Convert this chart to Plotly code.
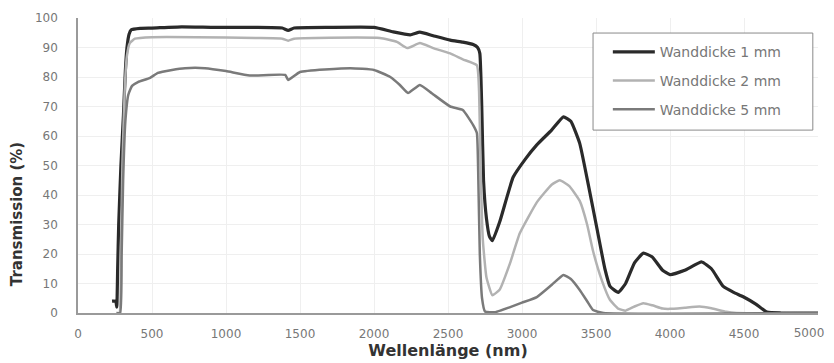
import plotly.graph_objects as go

# ---- data ----
x_1mm = [230, 255, 262, 268, 275, 290, 307, 320, 331, 345, 360, 420, 500, 700, 925, 1200, 1380, 1420, 1460,
         1700, 2000, 2130, 2245, 2310, 2400, 2515, 2600, 2670, 2700, 2715, 2728, 2740, 2760, 2780, 2800,
         2850, 2940, 3020, 3100, 3200, 3280, 3330, 3390, 3450, 3505, 3560, 3595, 3650, 3700, 3760, 3820,
         3880, 3950, 4000, 4100, 4215, 4280, 4360, 4430, 4495, 4580, 4655, 4750, 5000]
y_1mm = [4, 4, 2, 15, 30, 50, 67, 82, 90, 94.5, 96, 96.5, 96.6, 97, 96.8, 96.8, 96.6, 95.8, 96.6,
         96.8, 96.8, 95.3, 94.3, 95.2, 94.0, 92.5, 91.8, 91.0, 90.0, 88.0, 70, 45, 32, 26, 24.5,
         31, 46, 52, 57, 62, 66.5, 65, 57.5, 43, 29, 15, 9, 7, 10, 17, 20.3,
         19, 14.5, 13, 14.5, 17.3, 15, 9, 7, 5.5, 3, 0.3, 0, 0]

x_2mm = [260, 280, 290, 300, 315, 330, 350, 385, 500, 800, 1200, 1380, 1420, 1460, 1700, 2040, 2155,
         2225, 2310, 2400, 2515, 2600, 2695, 2710, 2720, 2735, 2760, 2800, 2850, 2920, 2985, 3100,
         3200, 3255, 3320, 3390, 3440, 3480, 3540, 3595, 3650, 3700, 3760, 3820, 3880, 3950, 4000,
         4100, 4200, 4280, 4380, 4450, 5000]
y_2mm = [0, 0, 20, 50, 75, 87, 91.5, 93, 93.5, 93.5, 93.2, 93.0, 92.3, 93.0, 93.3, 93.2, 91.9,
         89.8, 91.5, 89.8, 88.0, 86.0, 84.0, 75, 50, 25, 12, 6, 8, 17, 27, 37.5,
         43.5, 45, 43, 38, 30, 21, 11, 4.4, 1.5, 0.8, 2.2, 3.3, 2.6, 1.5, 1.4,
         1.8, 2.2, 1.6, 0.4, 0, 0]

x_5mm = [260, 285, 295, 305, 320, 340, 365, 405, 487, 540, 635, 723, 858, 1000, 1160, 1400, 1420,
         1500, 1840, 2000, 2110, 2175, 2230, 2310, 2390, 2515, 2600, 2670, 2695, 2705, 2715, 2730,
         2750, 2820, 2920, 3000, 3100, 3200, 3280, 3330, 3390, 3440, 3480, 3550, 5000]
y_5mm = [0, 0, 20, 45, 65, 74, 77, 78.3, 79.7, 81.4, 82.4, 83, 83, 82, 80.5, 80.7, 79,
         81.7, 83, 82.4, 80, 77.3, 74.6, 77.3, 74.5, 70, 68.8, 63.7, 61, 45, 20, 5,
         0.5, 0.3, 2, 3.5, 5.4, 9.5, 12.9, 11.5, 7.8, 4, 1, 0, 0]

names = ["Wanddicke 1 mm", "Wanddicke 2 mm", "Wanddicke 5 mm"]
x_ticks = [0, 500, 1000, 1500, 2000, 2500, 3000, 3500, 4000, 4500, 5000]
y_ticks = [0, 10, 20, 30, 40, 50, 60, 70, 80, 90, 100]

FONT = "DejaVu Sans"
TICKFONT = dict(family=FONT, size=12, color="#777")

fig = go.Figure()
styles = [("#2a2a2a", 3.2), ("#b2b2b2", 2.5), ("#7a7a7a", 2.5)]
for i, (xs, ys) in enumerate([(x_1mm, y_1mm), (x_2mm, y_2mm), (x_5mm, y_5mm)]):
    col, w = styles[i]
    fig.add_trace(go.Scatter(x=xs, y=ys, mode="lines", name=names[i], legendgroup=f"g{i}",
                             line=dict(color=col, width=w, shape="spline", smoothing=0.4)))

# the last x tick label sits at the page edge: draw it from an overlaying axis nudged left
last_tick = x_ticks[-1]
main_text = [str(v) if v != last_tick else "" for v in x_ticks]
# empty helper trace so that the overlaying axis gets drawn (draws nothing)
fig.add_trace(go.Scatter(x=[], y=[], xaxis="x2", yaxis="y", mode="lines",
                         showlegend=False, hoverinfo="skip"))

# page body has an 8px margin, so the figure is made 8px smaller
fig.update_layout(
    width=826, height=355,
    margin=dict(l=70, r=16, t=10, b=50, autoexpand=False),
    paper_bgcolor="white", plot_bgcolor="white",
    font=dict(family=FONT, size=12, color="#666"),
    showlegend=True,
    legend=dict(x=0.716, y=0.938, xanchor="left", yanchor="top",
                borderwidth=0, bgcolor="rgba(0,0,0,0)",
                font=dict(family=FONT, size=14, color="#777"),
                tracegroupgap=7.5, itemwidth=42),
    xaxis=dict(range=[0, 5000], tickvals=x_ticks, ticktext=main_text,
               automargin=False, ticklabeloverflow="allow",
               showgrid=True, gridcolor="#efefef", gridwidth=1,
               showline=True, linecolor="#9a9a9a", linewidth=1.5,
               ticks="outside", ticklen=9, tickcolor="rgba(0,0,0,0)",
               tickfont=TICKFONT, zeroline=False,
               title=dict(text="<b>Wellenlänge (nm)</b>", standoff=5,
                          font=dict(family=FONT, size=16, color="#333"))),
    xaxis2=dict(range=[0, 5000], overlaying="x", anchor="y", side="bottom",
                tickvals=[last_tick], ticktext=[str(last_tick)],
                automargin=False, ticklabeloverflow="allow", ticklabelshift=-9,
                showgrid=False, showline=False, zeroline=False,
                ticks="outside", ticklen=9, tickcolor="rgba(0,0,0,0)",
                tickfont=TICKFONT),
    yaxis=dict(range=[0, 100], tickvals=y_ticks, ticktext=[str(v) for v in y_ticks],
               automargin=False, ticklabeloverflow="allow",
               showgrid=True, gridcolor="#efefef", gridwidth=1,
               showline=True, linecolor="#9a9a9a", linewidth=1.5,
               ticks="outside", ticklen=16, tickcolor="rgba(0,0,0,0)",
               tickfont=TICKFONT, zeroline=False),
)

# legend frame
fig.add_shape(type="rect", xref="paper", yref="paper", x0=0.696, x1=0.993, y0=0.620, y1=0.949,
              line=dict(color="#8a8a8a", width=1), fillcolor="white", layer="above")

fig.add_annotation(text="<b>Transmission (%)</b>", textangle=-90, xref="paper", yref="paper",
                   x=-0.0824, y=0.335, xanchor="center", yanchor="middle", showarrow=False,
                   font=dict(family=FONT, size=15, color="#333"))

fig.write_html("out.html")
